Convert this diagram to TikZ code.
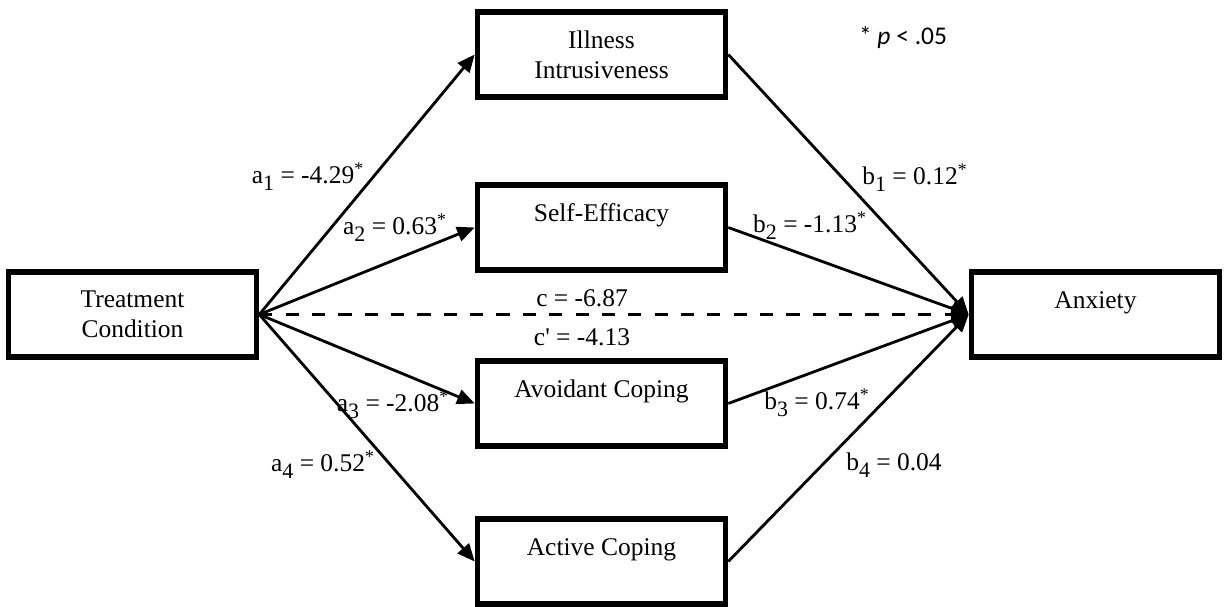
\documentclass[tikz,border=0pt]{standalone}
\usepackage{fontspec}
\setmainfont{Liberation Serif}
\newfontfamily\notefont{Carlito}
\usetikzlibrary{arrows.meta}

\newcommand{\lowsub}[1]{\raisebox{-0.6ex}{\fontsize{12.5}{13}\selectfont #1}}

\tikzset{
  varbox/.style={draw, line width=3.2pt, minimum width=4.96cm, minimum height=1.7cm,
    align=center, inner sep=0pt, font=\fontsize{14.5}{17}\selectfont},
  onerow/.style={text height=0.74cm, text depth=0.96cm},
  link/.style={line width=1.6pt, -{Triangle[length=10pt,width=8.5pt]}},
  coef/.style={inner sep=1pt, font=\fontsize{14.5}{17}\selectfont}
}

\begin{document}
\begin{tikzpicture}[x=0.02cm, y=-0.02cm]
        \useasboundingbox (0,0) rectangle (1225,607);
        \node at (132.5,314.5) [varbox] (treat) {Treatment\\Condition};
        \node at (601.5,54.5) [varbox] (illness) {Illness\\Intrusiveness};
        \node at (601.5,227.5) [varbox, onerow] (selfeff) {Self-Efficacy};
        \node at (601.5,403.5) [varbox, onerow] (avoid) {Avoidant Coping};
        \node at (601.5,561.5) [varbox, onerow] (active) {Active Coping};
        \node at (1095.5,314.5) [varbox, onerow] (anxiety) {Anxiety};
        \node at (308,177) [coef] (a1) {a\lowsub{1} = -4.29\textsuperscript{*}};
        \node at (395,228) [coef] (a2) {a\lowsub{2} = 0.63\textsuperscript{*}};
        \node at (393,405) [coef] (a3) {a\lowsub{3} = -2.08\textsuperscript{*}};
        \node at (323,465) [coef] (a4) {a\lowsub{4} = 0.52\textsuperscript{*}};
        \node at (915,178) [coef] (b1) {b\lowsub{1} = 0.12\textsuperscript{*}};
        \node at (810,226) [coef] (b2) {b\lowsub{2} = -1.13\textsuperscript{*}};
        \node at (817,403) [coef] (b3) {b\lowsub{3} = 0.74\textsuperscript{*}};
        \node at (894,465) [coef] (b4) {b\lowsub{4} = 0.04};
        \node at (582,298) [coef] (c) {c = -6.87};
        \node at (582,337) [coef] (cprime) {c\textquotesingle{} = -4.13};
        \node at (903,38) [coef, font=\notefont\fontsize{14.5}{17}\selectfont] (note) {* \textit{p} < .05};
        \draw[link] (treat.east) -- (illness.west);
        \draw[link] (treat.east) -- (selfeff.west);
        \draw[link] (treat.east) -- (avoid.west);
        \draw[link] (treat.east) -- (active.west);
        \draw[link, line width=2pt, dash pattern=on 7.5pt off 7.5pt] (treat.east) -- (anxiety.west);
        \draw[link] (illness.east) -- (anxiety.west);
        \draw[link] (selfeff.east) -- (anxiety.west);
        \draw[link] (avoid.east) -- (anxiety.west);
        \draw[link] (active.east) -- (anxiety.west);
      \end{tikzpicture}
\end{document}
